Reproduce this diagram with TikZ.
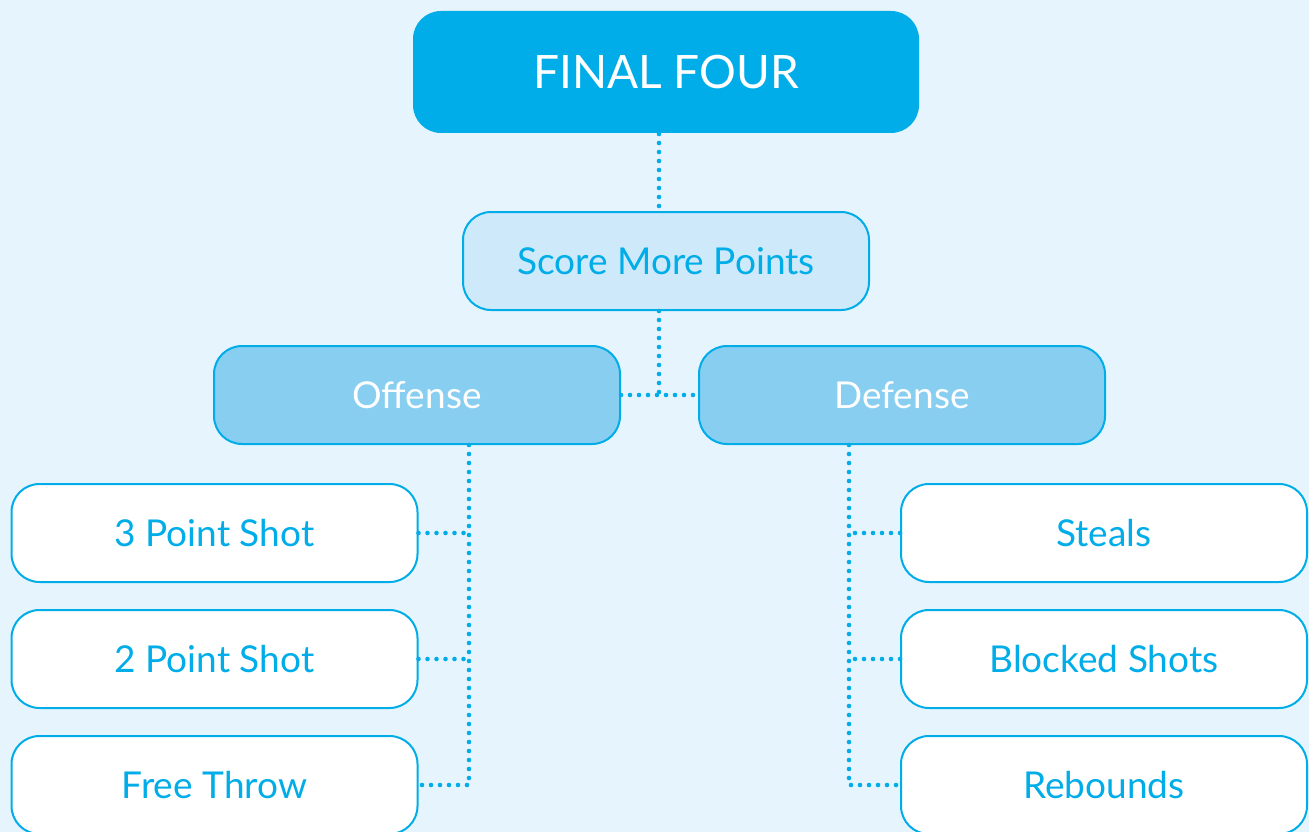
\documentclass[tikz,border=0pt]{standalone}
\usepackage{fontspec}
\setmainfont{Lato}
\usetikzlibrary{positioning,calc}
\definecolor{cyanline}{HTML}{00ADE8}
\definecolor{scorefill}{HTML}{CEE9FA}
\definecolor{sidefill}{HTML}{87CEF1}
\definecolor{bgblue}{HTML}{E6F5FD}

\begin{document}
\begin{tikzpicture}[x=1pt, y=-1pt,
		box/.style={rounded corners=28pt, draw=cyanline, line width=2pt, minimum width=406pt, minimum height=98pt, inner sep=0pt, text=cyanline, font=\fontsize{37}{37}\selectfont},
		topbox/.style={box, fill=cyanline, draw=none, minimum width=506pt, minimum height=122pt, text=white, font=\fontsize{46}{46}\selectfont},
		scorebox/.style={box, fill=scorefill},
		sidebox/.style={box, fill=sidefill, text=white},
		leafbox/.style={box, fill=white},
		dots/.style={draw=cyanline, line width=4.6pt, line cap=round, dash pattern=on 0pt off 9pt}
		]
		\useasboundingbox (0,0) rectangle (1309,832);
		\fill[bgblue] (0,0) rectangle (1309,832);
		
		\node[topbox] (final) at (666, 72) {FINAL FOUR};
		\node[scorebox] (score) at (666, 261) {Score More Points};
		\node[sidebox] (off) at (417, 395) {Offense};
		\node[sidebox] (def) at (902, 395) {Defense};
		
		\node[leafbox] (tps) at (214.5, 533) {3 Point Shot};
		\node[leafbox] (tws) at (214.5, 659) {2 Point Shot};
		\node[leafbox] (ft) at (214.5, 785) {Free Throw};
		\node[leafbox] (st) at (1104, 533) {Steals};
		\node[leafbox] (bs) at (1104, 659) {Blocked Shots};
		\node[leafbox] (rb) at (1104, 785) {Rebounds};
		
		\coordinate (spine) at (659, 0);
		\coordinate (ltrunk) at (469, 0);
		\coordinate (rtrunk) at (849, 0);
		
		\draw[dots] (final.south -| spine) -- (score.north -| spine);
		\draw[dots] (score.south -| spine) -- (off.east -| spine);
		\draw[dots] (off.east) -- (def.west);
		
		\draw[dots] (off.south -| ltrunk) |- (ft.east);
		\draw[dots] (tps.east) -- (tps.east -| ltrunk);
		\draw[dots] (tws.east) -- (tws.east -| ltrunk);
		
		\draw[dots] (def.south -| rtrunk) |- (rb.west);
		\draw[dots] (st.west) -- (st.west -| rtrunk);
		\draw[dots] (bs.west) -- (bs.west -| rtrunk);
		
\end{tikzpicture}
\end{document}
